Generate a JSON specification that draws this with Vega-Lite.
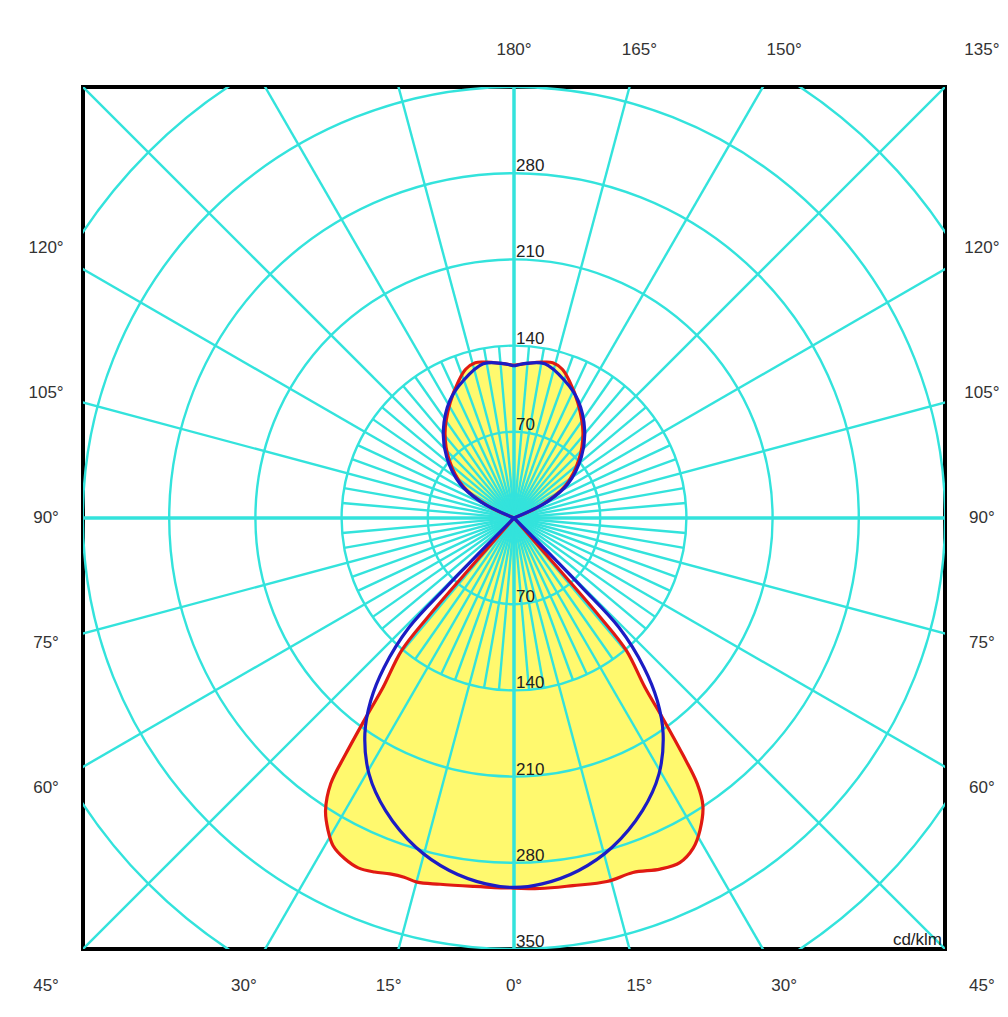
{
  "$schema": "https://vega.github.io/schema/vega-lite/v6.json",
  "width": 862,
  "height": 862,
  "autosize": {"type": "none"},
  "padding": {"left": 83, "top": 87, "right": 63, "bottom": 68},
  "background": "white",
  "config": {
    "view": {"stroke": "black", "strokeWidth": 4},
    "text": {"font": "Liberation Sans", "fontSize": 17, "fill": "#333333"}
  },
  "datasets": {
    "red": [
      {"a": -180, "I": 124}, {"a": -175, "I": 126}, {"a": -170, "I": 128.5}, {"a": -166, "I": 130},
      {"a": -162, "I": 127}, {"a": -158, "I": 120}, {"a": -151, "I": 107}, {"a": -141, "I": 89},
      {"a": -132, "I": 71}, {"a": -122, "I": 49}, {"a": -115, "I": 24}, {"a": -111, "I": 0},
      {"a": -42, "I": 0}, {"a": -41.3, "I": 50}, {"a": -41, "I": 107}, {"a": -40.3, "I": 141},
      {"a": -37.7, "I": 174}, {"a": -36.7, "I": 199}, {"a": -35.5, "I": 235}, {"a": -34.6, "I": 262},
      {"a": -32.8, "I": 282.5}, {"a": -30.8, "I": 295}, {"a": -28.9, "I": 304}, {"a": -26.4, "I": 309},
      {"a": -24, "I": 311}, {"a": -21.5, "I": 309}, {"a": -19.2, "I": 306}, {"a": -17, "I": 305},
      {"a": -14.9, "I": 306}, {"a": -11.4, "I": 303.4}, {"a": -6.35, "I": 301}, {"a": -3, "I": 300.5},
      {"a": 0, "I": 300.5}, {"a": 4, "I": 301.6}, {"a": 9.1, "I": 302.3}, {"a": 14.35, "I": 304.7},
      {"a": 18.55, "I": 303.7}, {"a": 22.6, "I": 308.8}, {"a": 25.7, "I": 310.5}, {"a": 28.5, "I": 305},
      {"a": 30.8, "I": 295}, {"a": 33.3, "I": 279.4}, {"a": 34.6, "I": 262}, {"a": 35.5, "I": 236},
      {"a": 36.7, "I": 200}, {"a": 37.7, "I": 174}, {"a": 40.3, "I": 141}, {"a": 41, "I": 107},
      {"a": 41.3, "I": 50}, {"a": 42, "I": 0},
      {"a": 111, "I": 0}, {"a": 115, "I": 24}, {"a": 122, "I": 49}, {"a": 132, "I": 71},
      {"a": 141, "I": 89}, {"a": 151, "I": 107}, {"a": 158, "I": 120}, {"a": 162, "I": 127},
      {"a": 166, "I": 130}, {"a": 170, "I": 128.5}, {"a": 175, "I": 126}, {"a": 180, "I": 124}
    ],
    "blue": [
      {"a": -180, "I": 123.5}, {"a": -175.5, "I": 126}, {"a": -168.7, "I": 127.7}, {"a": -159.8, "I": 119},
      {"a": -151.4, "I": 108.7}, {"a": -141.1, "I": 91.4}, {"a": -132.1, "I": 73.7}, {"a": -122.3, "I": 51.9},
      {"a": -116, "I": 30}, {"a": -110, "I": 0},
      {"a": -45.2, "I": 0}, {"a": -44.8, "I": 40}, {"a": -44.4, "I": 80}, {"a": -43.8, "I": 123},
      {"a": -41, "I": 160.8}, {"a": -38.1, "I": 188.6}, {"a": -34.65, "I": 213}, {"a": -29.5, "I": 239},
      {"a": -23.7, "I": 259.5}, {"a": -16.6, "I": 279}, {"a": -10.4, "I": 291}, {"a": -4.4, "I": 298},
      {"a": 0, "I": 300},
      {"a": 4.4, "I": 298}, {"a": 10.4, "I": 291}, {"a": 16.6, "I": 279}, {"a": 23.7, "I": 259.5},
      {"a": 29.5, "I": 239}, {"a": 34.65, "I": 213}, {"a": 38.1, "I": 188.6}, {"a": 41, "I": 160.8},
      {"a": 43.8, "I": 123}, {"a": 44.4, "I": 80}, {"a": 44.8, "I": 40}, {"a": 45.2, "I": 0},
      {"a": 110, "I": 0}, {"a": 116, "I": 30}, {"a": 122.3, "I": 51.9}, {"a": 132.1, "I": 73.7},
      {"a": 141.1, "I": 91.4}, {"a": 151.4, "I": 108.7}, {"a": 159.8, "I": 119}, {"a": 168.7, "I": 127.7},
      {"a": 175.5, "I": 126}, {"a": 180, "I": 123.5}
    ],
    "rings": [{"r": 70}, {"r": 140}, {"r": 210}, {"r": 280}, {"r": 350}, {"r": 420}],
    "spokes": [
      {"ang": 0, "r1": 500}, {"ang": 15, "r1": 500}, {"ang": 30, "r1": 500}, {"ang": 45, "r1": 500},
      {"ang": 60, "r1": 500}, {"ang": 75, "r1": 500}, {"ang": 90, "r1": 500}, {"ang": 105, "r1": 500},
      {"ang": 120, "r1": 500}, {"ang": 135, "r1": 500}, {"ang": 150, "r1": 500}, {"ang": 165, "r1": 500},
      {"ang": 180, "r1": 500}, {"ang": 195, "r1": 500}, {"ang": 210, "r1": 500}, {"ang": 225, "r1": 500},
      {"ang": 240, "r1": 500}, {"ang": 255, "r1": 500}, {"ang": 270, "r1": 500}, {"ang": 285, "r1": 500},
      {"ang": 300, "r1": 500}, {"ang": 315, "r1": 500}, {"ang": 330, "r1": 500}, {"ang": 345, "r1": 500},
      {"ang": 5, "r1": 140}, {"ang": 10, "r1": 140}, {"ang": 20, "r1": 140}, {"ang": 25, "r1": 140},
      {"ang": 35, "r1": 140}, {"ang": 40, "r1": 140}, {"ang": 50, "r1": 140}, {"ang": 55, "r1": 140},
      {"ang": 65, "r1": 140}, {"ang": 70, "r1": 140}, {"ang": 80, "r1": 140}, {"ang": 85, "r1": 140},
      {"ang": 95, "r1": 140}, {"ang": 100, "r1": 140}, {"ang": 110, "r1": 140}, {"ang": 115, "r1": 140},
      {"ang": 125, "r1": 140}, {"ang": 130, "r1": 140}, {"ang": 140, "r1": 140}, {"ang": 145, "r1": 140},
      {"ang": 155, "r1": 140}, {"ang": 160, "r1": 140}, {"ang": 170, "r1": 140}, {"ang": 175, "r1": 140},
      {"ang": 185, "r1": 140}, {"ang": 190, "r1": 140}, {"ang": 200, "r1": 140}, {"ang": 205, "r1": 140},
      {"ang": 215, "r1": 140}, {"ang": 220, "r1": 140}, {"ang": 230, "r1": 140}, {"ang": 235, "r1": 140},
      {"ang": 245, "r1": 140}, {"ang": 250, "r1": 140}, {"ang": 260, "r1": 140}, {"ang": 265, "r1": 140},
      {"ang": 275, "r1": 140}, {"ang": 280, "r1": 140}, {"ang": 290, "r1": 140}, {"ang": 295, "r1": 140},
      {"ang": 305, "r1": 140}, {"ang": 310, "r1": 140}, {"ang": 320, "r1": 140}, {"ang": 325, "r1": 140},
      {"ang": 335, "r1": 140}, {"ang": 340, "r1": 140}, {"ang": 350, "r1": 140}, {"ang": 355, "r1": 140}
    ],
    "ringLabels": [
      {"label": "70", "r": 70, "dir": "up"}, {"label": "140", "r": 140, "dir": "up"},
      {"label": "210", "r": 210, "dir": "up"}, {"label": "280", "r": 280, "dir": "up"},
      {"label": "70", "r": 70, "dir": "down"}, {"label": "140", "r": 140, "dir": "down"},
      {"label": "210", "r": 210, "dir": "down"}, {"label": "280", "r": 280, "dir": "down"},
      {"label": "350", "r": 350, "dir": "down"}
    ],
    "angleLabels": [
      {"label": "180°", "a": 180}, {"label": "165°", "a": 165}, {"label": "150°", "a": 150}, {"label": "135°", "a": 135},
      {"label": "120°", "a": -120}, {"label": "105°", "a": -105}, {"label": "90°", "a": -90}, {"label": "75°", "a": -75}, {"label": "60°", "a": -60},
      {"label": "120°", "a": 120}, {"label": "105°", "a": 105}, {"label": "90°", "a": 90}, {"label": "75°", "a": 75}, {"label": "60°", "a": 60},
      {"label": "45°", "a": -45}, {"label": "30°", "a": -30}, {"label": "15°", "a": -15}, {"label": "0°", "a": 0},
      {"label": "15°", "a": 15}, {"label": "30°", "a": 30}, {"label": "45°", "a": 45}
    ],
    "unit": [{"label": "cd/klm", "x": 350, "y": -350}]
  },
  "layer": [
    {
      "data": {"name": "red"},
      "transform": [
        {"calculate": "datum.I * sin(datum.a * PI / 180)", "as": "x"},
        {"calculate": "-datum.I * cos(datum.a * PI / 180)", "as": "y"}
      ],
      "mark": {"type": "line", "fill": "#fff96e", "stroke": null, "strokeWidth": 0, "interpolate": "catmull-rom"},
      "encoding": {
        "x": {"field": "x", "type": "quantitative", "scale": {"domain": [-350, 350], "nice": false, "zero": false}, "axis": null},
        "y": {"field": "y", "type": "quantitative", "scale": {"domain": [-350, 350], "nice": false, "zero": false}, "axis": null},
        "order": {"field": "a", "type": "quantitative"}
      }
    },
    {
      "data": {"name": "rings"},
      "mark": {"type": "arc", "theta": 0, "theta2": 6.2832, "fill": null, "filled": false, "stroke": "#33e3dc", "strokeWidth": 2.4, "clip": true},
      "encoding": {
        "radius": {"field": "r", "type": "quantitative", "stack": null, "scale": {"type": "linear", "domain": [0, 350], "range": [0, 431], "zero": true}}
      }
    },
    {
      "data": {"name": "spokes"},
      "transform": [
        {"calculate": "datum.r1 * sin(datum.ang * PI / 180)", "as": "x2"},
        {"calculate": "-datum.r1 * cos(datum.ang * PI / 180)", "as": "y2"},
        {"calculate": "0", "as": "x0"},
        {"calculate": "0", "as": "y0"}
      ],
      "mark": {"type": "rule", "clip": true, "color": "#33e3dc"},
      "encoding": {
        "x": {"field": "x0", "type": "quantitative"},
        "y": {"field": "y0", "type": "quantitative"},
        "x2": {"field": "x2"},
        "y2": {"field": "y2"},
        "strokeWidth": {"condition": {"test": "datum.ang % 90 === 0", "value": 3.5}, "value": 2.4}
      }
    },
    {
      "data": {"name": "red"},
      "transform": [
        {"calculate": "datum.I * sin(datum.a * PI / 180)", "as": "x"},
        {"calculate": "-datum.I * cos(datum.a * PI / 180)", "as": "y"}
      ],
      "mark": {"type": "line", "color": "#e01a12", "strokeWidth": 3.2, "interpolate": "catmull-rom", "clip": true},
      "encoding": {
        "x": {"field": "x", "type": "quantitative"},
        "y": {"field": "y", "type": "quantitative"},
        "order": {"field": "a", "type": "quantitative"}
      }
    },
    {
      "data": {"name": "blue"},
      "transform": [
        {"calculate": "datum.I * sin(datum.a * PI / 180)", "as": "x"},
        {"calculate": "-datum.I * cos(datum.a * PI / 180)", "as": "y"}
      ],
      "mark": {"type": "line", "color": "#1c1cc4", "strokeWidth": 3.2, "interpolate": "catmull-rom", "clip": true},
      "encoding": {
        "x": {"field": "x", "type": "quantitative"},
        "y": {"field": "y", "type": "quantitative"},
        "order": {"field": "a", "type": "quantitative"}
      }
    },
    {
      "data": {"name": "ringLabels"},
      "transform": [
        {"calculate": "datum.dir === 'up' ? datum.r : -datum.r", "as": "y"},
        {"calculate": "0", "as": "x"}
      ],
      "mark": {"type": "text", "align": "left", "baseline": "alphabetic", "dx": 2, "dy": -2, "fill": "#222222"},
      "encoding": {
        "x": {"field": "x", "type": "quantitative"},
        "y": {"field": "y", "type": "quantitative"},
        "text": {"field": "label"}
      }
    },
    {
      "data": {"name": "angleLabels"},
      "transform": [
        {"calculate": "max(abs(sin(datum.a * PI / 180)), abs(cos(datum.a * PI / 180)))", "as": "m"},
        {"calculate": "380 * sin(datum.a * PI / 180) / datum.m", "as": "x"},
        {"calculate": "-380 * cos(datum.a * PI / 180) / datum.m", "as": "y"}
      ],
      "mark": {"type": "text", "align": "center", "baseline": "middle", "fill": "#333333"},
      "encoding": {
        "x": {"field": "x", "type": "quantitative"},
        "y": {"field": "y", "type": "quantitative"},
        "text": {"field": "label"}
      }
    },
    {
      "data": {"name": "unit"},
      "mark": {"type": "text", "align": "right", "baseline": "alphabetic", "dx": -3, "dy": -4, "fill": "#222222"},
      "encoding": {
        "x": {"field": "x", "type": "quantitative"},
        "y": {"field": "y", "type": "quantitative"},
        "text": {"field": "label"}
      }
    }
  ]
}
